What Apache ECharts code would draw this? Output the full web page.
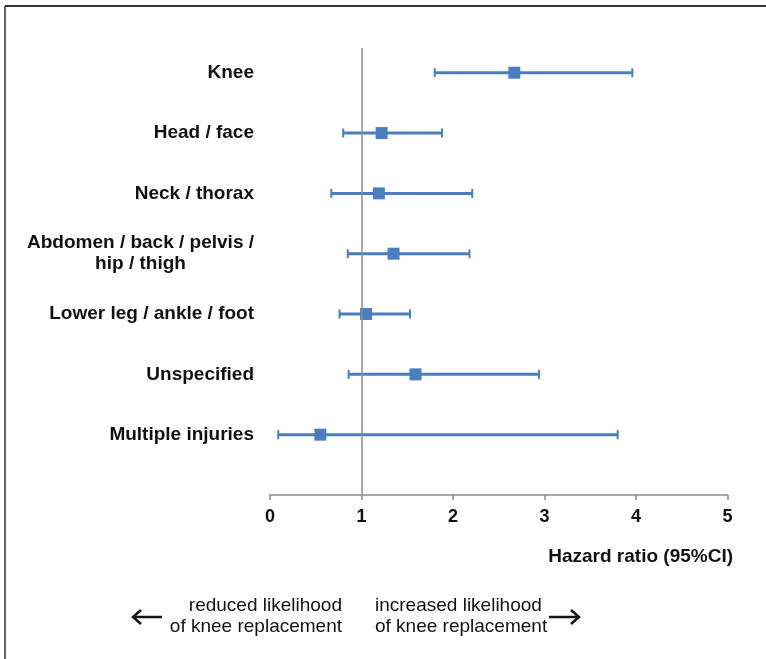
<!DOCTYPE html>
<html>
<head>
<meta charset="utf-8">
<script src="https://cdn.jsdelivr.net/npm/echarts@6/dist/echarts.min.js"></script>
<style>html,body{margin:0;padding:0;background:#fff}#c{width:766px;height:659px}</style>
</head>
<body>
<div id="c"></div>
<script>
var categories = ['Knee', 'Head / face', 'Neck / thorax', 'Abdomen / back / pelvis /\nhip / thigh', 'Lower leg / ankle / foot', 'Unspecified', 'Multiple injuries'];
var hazardRatio = [2.67, 1.22, 1.19, 1.35, 1.05, 1.59, 0.55];
var ciLow = [1.80, 0.80, 0.67, 0.85, 0.76, 0.86, 0.09];
var ciHigh = [3.96, 1.88, 2.21, 2.18, 1.53, 2.94, 3.80];
var xTicks = [0, 1, 2, 3, 4, 5];

var n = categories.length;
function rowY(i) { return n - i; }

var chart = echarts.init(document.getElementById('c'));
var font = '"Liberation Sans", Arial, sans-serif';

var errData = categories.map(function (c, i) { return [ciLow[i], ciHigh[i], rowY(i)]; });
var ptData = categories.map(function (c, i) { return [hazardRatio[i], rowY(i)]; });

chart.setOption({
  animation: false,
  backgroundColor: '#fff',
  grid: { left: 270, right: 38.5, top: 48, bottom: 164 },
  xAxis: {
    type: 'value', min: xTicks[0], max: xTicks[xTicks.length - 1], interval: 1,
    axisLine: { show: true, lineStyle: { color: '#8c8c8c', width: 1.5 } },
    axisTick: { show: true, length: 5, lineStyle: { color: '#8c8c8c', width: 1.5 } },
    splitLine: { show: false },
    axisLabel: { margin: 13, color: '#111', fontFamily: font, fontWeight: 'bold', fontSize: 18 }
  },
  yAxis: {
    type: 'value', min: 0, max: 7.41, interval: 1,
    axisLine: { show: false }, axisTick: { show: false }, splitLine: { show: false },
    axisLabel: {
      margin: 16, color: '#111', fontFamily: font, fontWeight: 'bold', fontSize: 19, lineHeight: 21,
      showMaxLabel: false,
      formatter: function (v) {
        var idx = n - Math.round(v);
        if (v < 1 || idx < 0 || idx >= n) return '';
        return categories[idx].split('\n').map(function (s) { return '{c|' + s + '}'; }).join('\n');
      },
      rich: { c: { align: 'center', fontFamily: font, fontWeight: 'bold', fontSize: 19, color: '#111', lineHeight: 21 } }
    }
  },
  series: [
    {
      type: 'custom',
      data: errData,
      encode: { x: [0, 1], y: 2 },
      renderItem: function (params, api) {
        var p1 = api.coord([api.value(0), api.value(2)]);
        var p2 = api.coord([api.value(1), api.value(2)]);
        var cap = 4.5;
        return {
          type: 'group',
          children: [
            { type: 'line', shape: { x1: p1[0], y1: p1[1], x2: p2[0], y2: p2[1] }, style: { stroke: '#4A7EBB', lineWidth: 3 } },
            { type: 'line', shape: { x1: p1[0], y1: p1[1] - cap, x2: p1[0], y2: p1[1] + cap }, style: { stroke: '#4A7EBB', lineWidth: 2 } },
            { type: 'line', shape: { x1: p2[0], y1: p2[1] - cap, x2: p2[0], y2: p2[1] + cap }, style: { stroke: '#4A7EBB', lineWidth: 2 } }
          ]
        };
      },
      z: 2
    },
    {
      type: 'scatter',
      data: ptData,
      symbol: 'rect', symbolSize: 12,
      itemStyle: { color: '#4A7EBF', opacity: 1 },
      z: 3,
      markLine: {
        silent: true, symbol: 'none', label: { show: false },
        lineStyle: { color: '#8c8c8c', width: 1.5, type: 'solid' },
        data: [{ xAxis: 1 }]
      }
    }
  ],
  graphic: [
    { type: 'line', shape: { x1: 5, y1: 6, x2: 766, y2: 6 }, style: { stroke: '#333', lineWidth: 2 } },
    { type: 'line', shape: { x1: 5, y1: 6, x2: 5, y2: 659 }, style: { stroke: '#333', lineWidth: 1.5 } },
    { type: 'text', right: 33, top: 547, style: { text: 'Hazard ratio (95%CI)', font: 'bold 19px ' + font, fill: '#111' } },
    { type: 'text', x: 342, y: 595, style: { text: 'reduced likelihood\nof knee replacement', font: '19px ' + font, fill: '#111', align: 'right', verticalAlign: 'top', lineHeight: 21 } },
    { type: 'text', x: 375, y: 595, style: { text: 'increased likelihood\nof knee replacement', font: '19px ' + font, fill: '#111', align: 'left', verticalAlign: 'top', lineHeight: 21 } },
    { type: 'line', shape: { x1: 133, y1: 617, x2: 162, y2: 617 }, style: { stroke: '#111', lineWidth: 2.5 } },
    { type: 'polyline', shape: { points: [[141, 610], [133, 617], [141, 624]] }, style: { stroke: '#111', lineWidth: 2.5, fill: null } },
    { type: 'line', shape: { x1: 549, y1: 617, x2: 579, y2: 617 }, style: { stroke: '#111', lineWidth: 2.5 } },
    { type: 'polyline', shape: { points: [[571, 610], [579, 617], [571, 624]] }, style: { stroke: '#111', lineWidth: 2.5, fill: null } }
  ]
});
</script>
</body>
</html>
